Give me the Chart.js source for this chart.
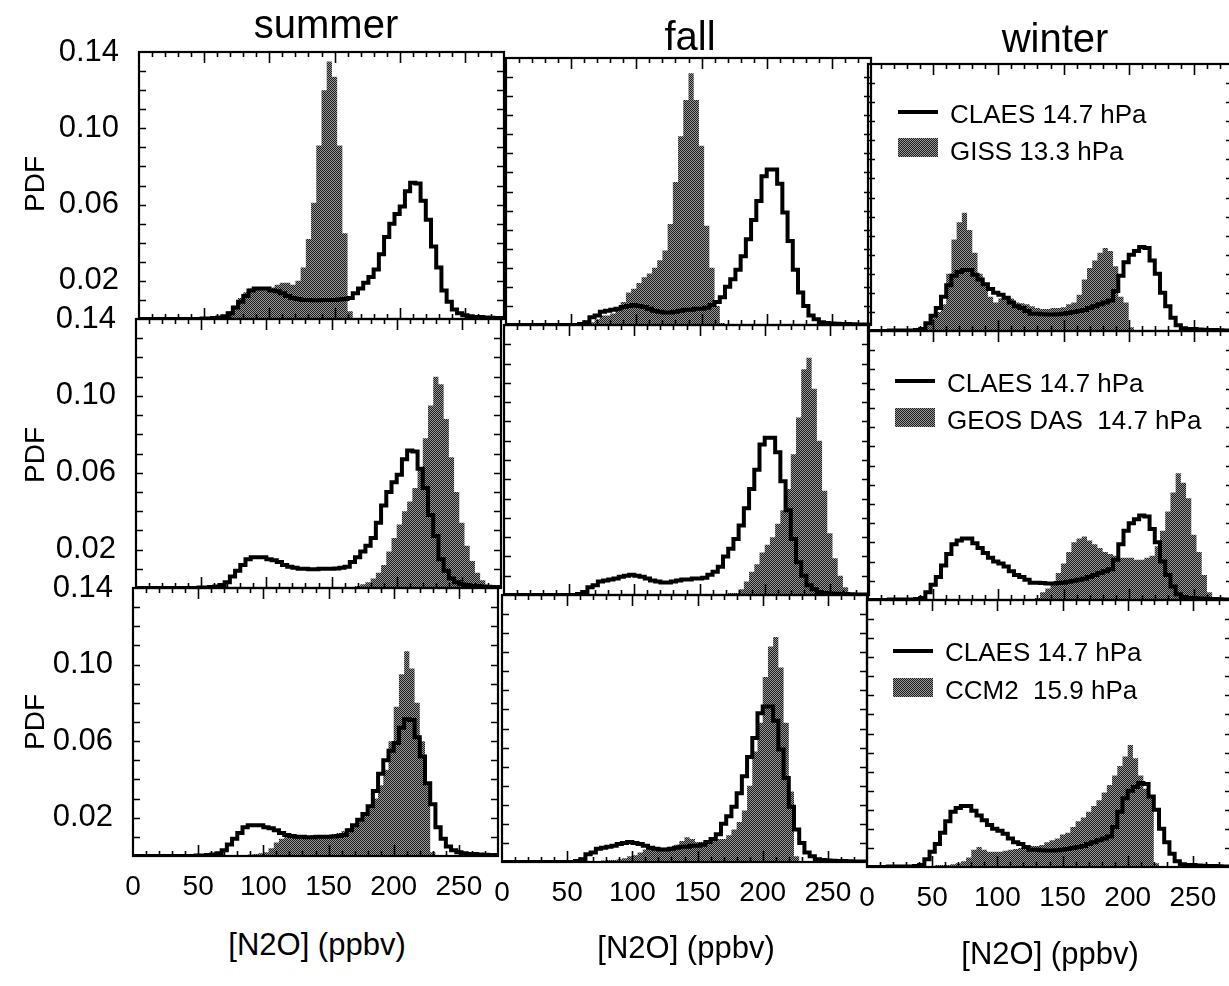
<!DOCTYPE html>
<html><head><meta charset="utf-8">
<script src="https://cdn.jsdelivr.net/npm/chart.js@4.4.1/dist/chart.umd.min.js"></script>
<style>
html,body{margin:0;padding:0;background:#fff;width:1229px;height:986px;overflow:hidden;position:relative;font-family:"Liberation Sans",Arial,sans-serif;color:#000}
canvas{position:absolute}
.t{position:absolute;white-space:pre;line-height:1;color:#000}
.sw{position:absolute}
</style></head><body>
<script>
// ---------------- data ----------------
const SEASONS = ['summer', 'fall', 'winter'];
const CLAES_LABEL = 'CLAES 14.7 hPa';
const MODEL_LABELS = ['GISS 13.3 hPa', 'GEOS DAS  14.7 hPa', 'CCM2  15.9 hPa'];
const X_TICKS = [0, 50, 100, 150, 200, 250];
const Y_TICKS = [0.02, 0.06, 0.10, 0.14];
const X_LABEL = '[N2O] (ppbv)';
const Y_LABEL = 'PDF';
const BIN_WIDTH = 4;   // ppbv, 70 bins over 0-280
const X_MAX = 280;

const CLAES_SUMMER = [
 0,0,0,0,0,0,0,0,0,0,
 0,0,0.0002,0.0003,0.0005,0.0008,0.0015,0.003,0.006,0.009,
 0.012,0.015,0.016,0.016,0.016,0.015,0.0145,0.0135,0.012,0.011,
 0.0105,0.010,0.010,0.0098,0.0098,0.010,0.010,0.010,0.0102,0.0105,
 0.011,0.0135,0.016,0.019,0.022,0.026,0.034,0.043,0.050,0.055,
 0.059,0.067,0.0715,0.071,0.062,0.052,0.038,0.027,0.015,0.009,
 0.005,0.003,0.002,0.0015,0.001,0.001,0.0008,0.0006,0.0005,0.0005];
const CLAES_FALL = [
 0,0,0,0,0,0,0,0,0,0,
 0,0,0,0,0.0005,0.0015,0.004,0.005,0.007,0.0075,
 0.008,0.0085,0.0095,0.010,0.0105,0.010,0.0095,0.0085,0.0075,0.007,
 0.0065,0.0065,0.007,0.0075,0.008,0.008,0.0085,0.0085,0.009,0.0105,
 0.012,0.0146,0.020,0.024,0.029,0.036,0.045,0.055,0.065,0.078,
 0.0815,0.0815,0.074,0.059,0.044,0.029,0.017,0.010,0.005,0.003,
 0.0015,0.001,0.0008,0.0006,0.0005,0.0005,0.0004,0.0003,0.0003,0.0002];
const CLAES_WINTER = [
 0,0,0,0,0.0002,0.0003,0.0003,0.0003,0.0003,0.0005,
 0.001,0.004,0.008,0.012,0.018,0.024,0.029,0.031,0.032,0.032,
 0.0295,0.027,0.0245,0.022,0.020,0.019,0.0175,0.015,0.013,0.012,
 0.0105,0.009,0.009,0.0088,0.0086,0.0086,0.0088,0.009,0.0095,0.010,
 0.0105,0.011,0.012,0.013,0.014,0.015,0.016,0.021,0.029,0.036,
 0.040,0.042,0.044,0.0435,0.037,0.030,0.020,0.013,0.007,0.003,
 0.0015,0.001,0.001,0.0008,0.0006,0.0005,0.0005,0.0004,0.0003,0.0003];

const GISS_SUMMER = [
 0,0,0,0,0,0,0,0,0,0,
 0,0,0,0,0,0,0.001,0.004,0.007,0.011,
 0.014,0.016,0.016,0.016,0.016,0.0165,0.018,0.019,0.019,0.018,
 0.020,0.027,0.042,0.061,0.091,0.120,0.135,0.127,0.091,0.045,
 0.004,0,0,0,0,0,0,0,0,0,
 0,0,0,0,0,0,0,0,0,0,
 0,0,0,0,0,0,0,0,0,0];
const GISS_FALL = [
 0,0,0,0,0,0,0,0,0,0,
 0,0,0,0,0,0.0005,0.0015,0.003,0.005,0.005,
 0.006,0.008,0.012,0.017,0.019,0.022,0.025,0.027,0.030,0.034,
 0.039,0.053,0.075,0.099,0.118,0.132,0.118,0.094,0.052,0.030,
 0.010,0.001,0,0,0,0,0,0,0,0,
 0,0,0,0,0,0,0,0,0,0,
 0,0,0,0,0,0,0,0,0,0];
const GISS_WINTER = [
 0,0,0,0,0,0,0,0,0,0,
 0.002,0.003,0.007,0.010,0.014,0.030,0.048,0.057,0.062,0.053,
 0.041,0.030,0.025,0.018,0.015,0.017,0.018,0.017,0.015,0.0145,
 0.014,0.013,0.012,0.0115,0.0115,0.012,0.012,0.0125,0.014,0.015,
 0.019,0.027,0.033,0.037,0.041,0.0435,0.042,0.034,0.018,0.015,
 0.002,0,0,0,0,0,0,0,0,0,
 0,0,0,0,0,0,0,0,0,0];

const GEOS_SUMMER = [
 0,0,0,0,0,0,0,0,0,0,
 0,0,0,0,0,0,0,0,0,0,
 0,0,0,0,0,0,0,0,0,0,
 0,0,0,0,0,0,0,0,0,0,
 0,0.0005,0.001,0.002,0.003,0.005,0.008,0.012,0.019,0.026,
 0.033,0.040,0.045,0.052,0.063,0.078,0.095,0.110,0.106,0.088,
 0.068,0.050,0.034,0.022,0.014,0.008,0.004,0.0015,0.0005,0];
const GEOS_FALL = [
 0,0,0,0,0,0,0,0,0,0,
 0,0,0,0,0,0,0,0,0,0,
 0,0,0,0,0,0,0,0,0,0,
 0,0,0,0,0,0,0,0,0,0,
 0,0,0,0.001,0.001,0.003,0.007,0.012,0.016,0.022,
 0.026,0.030,0.037,0.044,0.055,0.073,0.092,0.117,0.123,0.107,
 0.080,0.054,0.032,0.019,0.010,0.004,0.001,0,0,0];
const GEOS_WINTER = [
 0,0,0,0,0,0,0,0,0,0,
 0,0,0,0,0,0,0,0,0,0,
 0,0,0,0,0,0,0,0,0,0,
 0,0,0.001,0.004,0.006,0.009,0.014,0.019,0.025,0.030,
 0.032,0.033,0.031,0.029,0.027,0.025,0.024,0.023,0.022,0.022,
 0.022,0.021,0.021,0.022,0.023,0.028,0.036,0.046,0.056,0.066,
 0.061,0.053,0.034,0.025,0.013,0.004,0,0,0,0];

const CCM2_SUMMER = [
 0,0,0,0,0,0,0,0,0,0,
 0,0,0,0,0,0,0,0,0,0,
 0.0003,0.0005,0.0008,0.001,0.0015,0.002,0.004,0.007,0.009,0.010,
 0.011,0.011,0.011,0.0105,0.011,0.0105,0.011,0.011,0.0115,0.012,
 0.013,0.0145,0.0155,0.018,0.021,0.025,0.030,0.037,0.045,0.060,
 0.078,0.095,0.107,0.098,0.080,0.060,0.038,0.002,0,0,
 0,0,0,0,0,0,0,0,0,0];
const CCM2_FALL = [
 0,0,0,0,0,0,0,0,0,0,
 0,0,0,0,0,0,0,0,0,0.0008,
 0.001,0.001,0.0015,0.002,0.003,0.0035,0.005,0.0065,0.007,0.007,
 0.0075,0.0075,0.008,0.009,0.011,0.013,0.012,0.0105,0.0105,0.011,
 0.0115,0.012,0.012,0.014,0.017,0.021,0.027,0.040,0.058,0.073,
 0.097,0.113,0.118,0.102,0.073,0.037,0.003,0,0,0,
 0,0,0,0,0,0,0,0,0,0];
const CCM2_WINTER = [
 0,0,0,0,0,0,0,0,0,0,
 0,0,0.0005,0.001,0.001,0.001,0.0015,0.002,0.003,0.005,
 0.009,0.0105,0.009,0.008,0.008,0.008,0.0085,0.009,0.0095,0.010,
 0.0105,0.011,0.011,0.0115,0.013,0.014,0.015,0.017,0.018,0.021,
 0.024,0.026,0.029,0.032,0.035,0.039,0.043,0.048,0.053,0.058,
 0.064,0.057,0.048,0.041,0.037,0.002,0,0,0,0,
 0,0,0,0,0,0,0,0,0,0];

const CLAES = [CLAES_SUMMER, CLAES_FALL, CLAES_WINTER];          // by column
const MODELS = [                                                  // [row][col]
  [GISS_SUMMER, GISS_FALL, GISS_WINTER],
  [GEOS_SUMMER, GEOS_FALL, GEOS_WINTER],
  [CCM2_SUMMER, CCM2_FALL, CCM2_WINTER]];

// ---------------- layout ----------------
const PANEL_W = 365;
const PANEL_LEFT = [[139,136,133],[506,504,502],[868,868,867]]; // [col][row]
const PANEL_TOP  = [[52,319,588],[58,325,595],[64,331,600]];
const PANEL_H    = [[267,269,268],[267,270,267],[267,269,267]];
const FONT = '"Liberation Sans", Arial, sans-serif';
Chart.defaults.font.family = FONT;
Chart.defaults.color = '#000';

function toPoints(arr) {
  const pts = arr.map((v, i) => ({x: i * BIN_WIDTH, y: v}));
  pts.push({x: X_MAX, y: arr[arr.length - 1]});
  return pts;
}

function makePattern(ctx) {
  const pc = document.createElement('canvas');
  pc.width = 2; pc.height = 2;
  const p = pc.getContext('2d');
  p.fillStyle = '#9a9a9a'; p.fillRect(0, 0, 2, 2);
  p.fillStyle = '#1a1a1a'; p.fillRect(0, 0, 1, 1); p.fillRect(1, 1, 1, 1);
  return ctx.createPattern(pc, 'repeat');
}

const framePlugin = {
  id: 'frame',
  afterDatasetsDraw(chart) {
    const {ctx, chartArea: a, scales: {x, y}} = chart;
    ctx.save();
    ctx.strokeStyle = '#000';
    ctx.lineWidth = 1.6;
    ctx.beginPath();
    for (let v = 10; v < X_MAX; v += 10) {
      const px = Math.round(x.getPixelForValue(v)) + 0.5;
      const len = v % 50 === 0 ? 11 : 5;
      ctx.moveTo(px, a.bottom); ctx.lineTo(px, a.bottom - len);
      ctx.moveTo(px, a.top); ctx.lineTo(px, a.top + len);
    }
    for (let k = 1; k < 14; k++) {
      const py = Math.round(y.getPixelForValue(k / 100)) + 0.5;
      ctx.moveTo(a.left, py); ctx.lineTo(a.left + 7, py);
      ctx.moveTo(a.right, py); ctx.lineTo(a.right - 7, py);
    }
    ctx.stroke();
    ctx.lineWidth = 2.2;
    ctx.strokeRect(a.left, a.top, a.right - a.left, a.bottom - a.top);
    ctx.restore();
  }
};

function zeroPad(s) { s.paddingTop = 0; s.paddingBottom = 0; s.paddingLeft = 0; s.paddingRight = 0; }

function makePanel(r, c) {
  const L = PANEL_LEFT[c][r], T = PANEL_TOP[c][r], H = PANEL_H[c][r];
  const isLeft = c === 0, isBottom = r === 2;
  const padL = isLeft ? L : 14, padR = 14, padT = 22, padB = isBottom ? 70 : 14;
  const cv = document.createElement('canvas');
  cv.width = PANEL_W + padL + padR;
  cv.height = H + padT + padB;
  cv.style.left = (L - padL) + 'px';
  cv.style.top = (T - padT) + 'px';
  document.body.appendChild(cv);
  const ctx = cv.getContext('2d');
  new Chart(ctx, {
    type: 'line',
    data: {
      datasets: [
        {label: CLAES_LABEL, data: toPoints(CLAES[c]), stepped: 'before',
         borderColor: '#000', borderWidth: 4, fill: false, pointRadius: 0,
         borderJoinStyle: 'miter', borderCapStyle: 'butt'},
        {label: MODEL_LABELS[r], data: toPoints(MODELS[r][c]), stepped: 'before',
         borderColor: 'rgba(0,0,0,0)', borderWidth: 0, fill: 'origin',
         backgroundColor: makePattern(ctx), pointRadius: 0}
      ]
    },
    options: {
      responsive: false, animation: false, devicePixelRatio: 1,
      layout: {padding: {left: isLeft ? 0 : padL, right: padR, top: padT, bottom: isBottom ? 0 : padB}},
      plugins: {legend: {display: false}, tooltip: {enabled: false}, title: {display: false}},
      scales: {
        x: {type: 'linear', min: 0, max: X_MAX, position: 'bottom',
            grid: {display: false, drawTicks: false}, border: {display: false},
            ticks: {display: isBottom, autoSkip: false, maxRotation: 0, minRotation: 0, padding: 14,
                    font: {size: 28, family: FONT}, color: '#000'},
            afterBuildTicks: s => { s.ticks = X_TICKS.map(v => ({value: v})); },
            afterFit: s => { s.height = isBottom ? padB : 0; zeroPad(s); }},
        y: {type: 'linear', min: 0, max: 0.14, position: 'left',
            grid: {display: false, drawTicks: false}, border: {display: false},
            ticks: {display: isLeft, autoSkip: false, padding: 20,
                    font: {size: 31, family: FONT}, color: '#000',
                    callback: v => Number(v).toFixed(2)},
            afterBuildTicks: s => { s.ticks = Y_TICKS.map(v => ({value: v})); },
            afterFit: s => { s.width = isLeft ? padL : 0; zeroPad(s); }}
      }
    },
    plugins: [framePlugin]
  });
}

for (let r = 0; r < 3; r++) for (let c = 0; c < 3; c++) makePanel(r, c);

// ---------------- text ----------------
function text(str, x, baseline, fs, align) {
  const d = document.createElement('div');
  d.className = 't';
  d.textContent = str;
  d.style.fontSize = fs + 'px';
  d.style.top = (baseline - 0.8465 * fs) + 'px';
  d.style.left = x + 'px';
  if (align === 'center') d.style.transform = 'translateX(-50%)';
  document.body.appendChild(d);
  return d;
}
function vtext(str, cx, cy, fs) {
  const d = document.createElement('div');
  d.className = 't';
  d.textContent = str;
  d.style.fontSize = fs + 'px';
  d.style.left = cx + 'px';
  d.style.top = cy + 'px';
  d.style.transform = 'translate(-50%,-50%) rotate(-90deg)';
  document.body.appendChild(d);
}
function swatch(x, y, w, h, bg) {
  const d = document.createElement('div');
  d.className = 'sw';
  Object.assign(d.style, {left: x + 'px', top: y + 'px', width: w + 'px', height: h + 'px', background: bg});
  document.body.appendChild(d);
}

const TITLE_POS = [[326, 38], [690, 50], [1055, 52]];
SEASONS.forEach((s, i) => text(s, TITLE_POS[i][0], TITLE_POS[i][1], 40, 'center'));
const XT_POS = [[317, 955], [686, 958], [1050, 964]];
XT_POS.forEach(p => text(X_LABEL, p[0], p[1], 31, 'center'));
[184, 455, 722].forEach(cy => vtext(Y_LABEL, 35, cy, 28));

const PAT = 'repeating-conic-gradient(#1a1a1a 0 25%, #9a9a9a 0 50%) 0 0/2px 2px';
const LEG = [
  {lx: 898, ly: 110, tx: 950, t1: 114, by: 138, t2: 151},
  {lx: 895, ly: 379, tx: 947, t1: 383, by: 408, t2: 420},
  {lx: 893, ly: 649, tx: 945, t1: 652, by: 678, t2: 690}];
LEG.forEach((g, r) => {
  swatch(g.lx, g.ly, 40, 4, '#000');
  text(CLAES_LABEL, g.tx, g.t1 + 9, 26, 'left');
  swatch(g.lx, g.by, 40, 19, PAT);
  text(MODEL_LABELS[r], g.tx, g.t2 + 9, 26, 'left');
});
</script>
</body></html>
